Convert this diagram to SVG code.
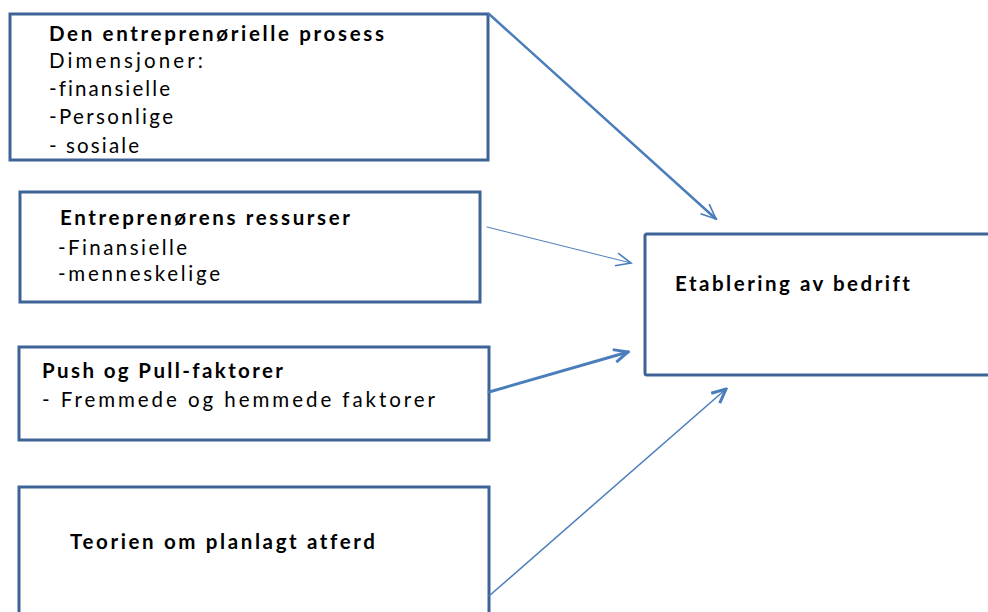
<svg xmlns="http://www.w3.org/2000/svg" width="988" height="612" viewBox="0 0 988 612">
  <style>
    .box { fill: #ffffff; stroke: #3e6497; stroke-width: 3; }
    .t { font-family: Lato, "Open Sans", "Liberation Sans", sans-serif; font-size: 20.5px; fill: #000000; font-variant-ligatures: none; }
    .b { font-weight: bold; }
    .conn { stroke: #4a7ebb; fill: none; stroke-linecap: round; }
  </style>
  <defs>
    <marker id="headThin" markerUnits="userSpaceOnUse" viewBox="-16 -8 18 16" refX="0" refY="0" markerWidth="18" markerHeight="16" orient="auto">
      <path d="M-15,-6.5 L0,0 L-15,6.5" fill="none" stroke="#4a7ebb" stroke-width="1.6"/>
    </marker>
    <marker id="headThick" markerUnits="userSpaceOnUse" viewBox="-16 -8 18 16" refX="0" refY="0" markerWidth="18" markerHeight="16" orient="auto">
      <path d="M-14,-6.5 L0,0 L-14,6.5" fill="none" stroke="#4a7ebb" stroke-width="3"/>
    </marker>
  </defs>

  <g id="node-prosess">
    <rect class="box" x="10" y="14" width="478" height="146"/>
    <text class="t b" x="49" y="41" textLength="335" lengthAdjust="spacing">Den entreprenørielle prosess</text>
    <text class="t" x="49" y="68" textLength="154" lengthAdjust="spacing">Dimensjoner:</text>
    <text class="t" x="49" y="96" textLength="121" lengthAdjust="spacing">-finansielle</text>
    <text class="t" x="49" y="124" textLength="124" lengthAdjust="spacing">-Personlige</text>
    <text class="t" x="49" y="153" textLength="90" lengthAdjust="spacing">- sosiale</text>
  </g>

  <g id="node-ressurser">
    <rect class="box" x="20" y="192" width="460" height="110"/>
    <text class="t b" x="60" y="225" textLength="290" lengthAdjust="spacing">Entreprenørens ressurser</text>
    <text class="t" x="58" y="255" textLength="129" lengthAdjust="spacing">-Finansielle</text>
    <text class="t" x="58" y="281" textLength="162" lengthAdjust="spacing">-menneskelige</text>
  </g>

  <g id="node-pushpull">
    <rect class="box" x="19" y="347" width="470" height="93"/>
    <text class="t b" x="42" y="378" textLength="241" lengthAdjust="spacing">Push og Pull-faktorer</text>
    <text class="t" x="42" y="407" textLength="393" lengthAdjust="spacing">- Fremmede og hemmede faktorer</text>
  </g>

  <g id="node-teori">
    <rect class="box" x="19" y="487" width="470" height="140"/>
    <text class="t b" x="70" y="549" textLength="305" lengthAdjust="spacing">Teorien om planlagt atferd</text>
  </g>

  <g id="node-etablering">
    <rect class="box" x="645" y="234" width="360" height="141" rx="2"/>
    <text class="t b" x="675" y="291" textLength="235" lengthAdjust="spacing">Etablering av bedrift</text>
  </g>

  <g id="connectors">
    <line class="conn" x1="489" y1="14" x2="716" y2="219" stroke-width="2.5" marker-end="url(#headThin)"/>
    <line class="conn" x1="487" y1="227" x2="631" y2="263" stroke-width="1" marker-end="url(#headThin)"/>
    <line class="conn" x1="489" y1="392" x2="628" y2="352" stroke-width="3" marker-end="url(#headThick)"/>
    <line class="conn" x1="489" y1="596" x2="726" y2="389" stroke-width="1.5" marker-end="url(#headThick)"/>
  </g>
</svg>
